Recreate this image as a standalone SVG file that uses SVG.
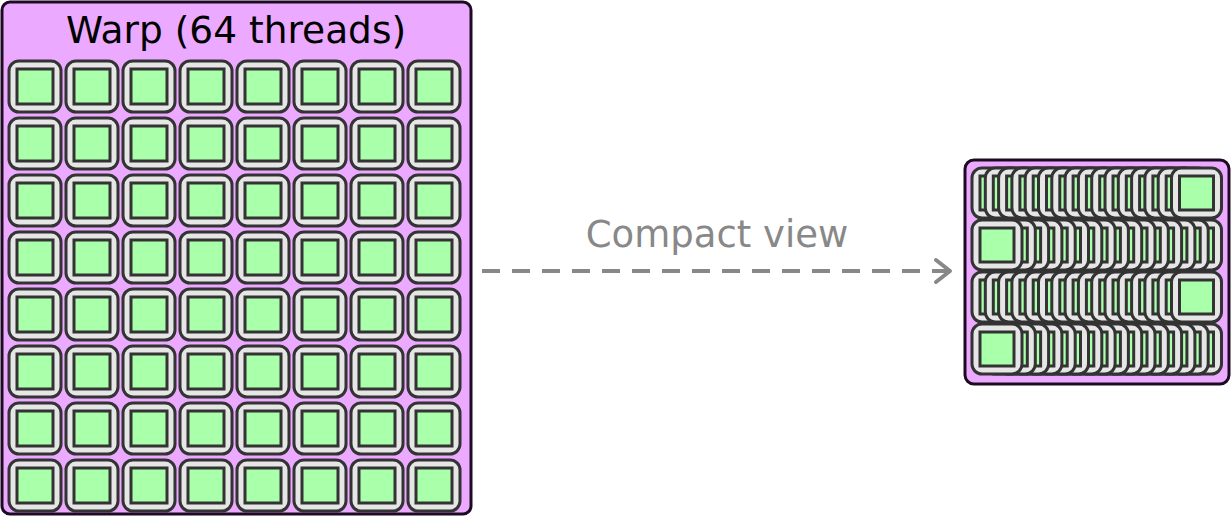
<svg xmlns="http://www.w3.org/2000/svg" xmlns:xlink="http://www.w3.org/1999/xlink" width="1231" height="516" viewBox="0 0 1231 516">
<style>
.warp{fill:#ebaaff;stroke:#1f0a24;stroke-width:3}
.o{fill:#e6e6e6;stroke:#333;stroke-width:3}
.i{fill:#aaffaa;stroke:#333;stroke-width:3}
text{font-family:"DejaVu Sans",sans-serif}
</style>
<defs>
<g id="c"><rect class="o" x="0" y="0" width="52" height="51" rx="10"/><rect class="i" x="8" y="8" width="36" height="35"/></g>
<g id="s"><rect class="o" x="0" y="0" width="50" height="50" rx="10"/><rect class="i" x="8" y="8" width="34" height="34"/></g>
<marker id="ah" viewBox="0 0 24 28" refX="20" refY="14" markerWidth="24" markerHeight="28" markerUnits="userSpaceOnUse" orient="auto"><path d="M6,3 L20,14 L6,25" fill="none" stroke="#888" stroke-width="4" stroke-linecap="round" stroke-linejoin="round"/></marker>
</defs>
<g id="warp">
<rect class="warp" x="2" y="2" width="469" height="512" rx="8"/>
<text x="236" y="43" font-size="37.5" text-anchor="middle" fill="#000">Warp (64 threads)</text>
<g id="grid">
<g id="r0"><use href="#c" x="9" y="61"/><use href="#c" x="66" y="61"/><use href="#c" x="123" y="61"/><use href="#c" x="180" y="61"/><use href="#c" x="237" y="61"/><use href="#c" x="294" y="61"/><use href="#c" x="351" y="61"/><use href="#c" x="408" y="61"/></g>
<use href="#r0" y="57"/><use href="#r0" y="114"/><use href="#r0" y="171"/><use href="#r0" y="228"/><use href="#r0" y="285"/><use href="#r0" y="342"/><use href="#r0" y="399"/>
</g>
</g>
<g id="connectors">
<line x1="482" y1="271" x2="950" y2="271" stroke="#888" stroke-width="4" stroke-dasharray="18,12" marker-end="url(#ah)"/>
<text x="717" y="247" font-size="37" text-anchor="middle" fill="#888">Compact view</text>
</g>
<g id="compact">
<rect class="warp" x="965" y="160" width="264" height="224" rx="9"/>
<g id="ra">
<use href="#s" x="972" y="168"/><use href="#s" x="985.3" y="168"/><use href="#s" x="998.6" y="168"/><use href="#s" x="1011.9" y="168"/><use href="#s" x="1025.2" y="168"/><use href="#s" x="1038.5" y="168"/><use href="#s" x="1051.8" y="168"/><use href="#s" x="1065.1" y="168"/><use href="#s" x="1078.4" y="168"/><use href="#s" x="1091.7" y="168"/><use href="#s" x="1105" y="168"/><use href="#s" x="1118.3" y="168"/><use href="#s" x="1131.6" y="168"/><use href="#s" x="1144.9" y="168"/><use href="#s" x="1158.2" y="168"/><use href="#s" x="1171.5" y="168"/>
</g>
<g id="rb">
<use href="#s" x="1171.5" y="220"/><use href="#s" x="1158.2" y="220"/><use href="#s" x="1144.9" y="220"/><use href="#s" x="1131.6" y="220"/><use href="#s" x="1118.3" y="220"/><use href="#s" x="1105" y="220"/><use href="#s" x="1091.7" y="220"/><use href="#s" x="1078.4" y="220"/><use href="#s" x="1065.1" y="220"/><use href="#s" x="1051.8" y="220"/><use href="#s" x="1038.5" y="220"/><use href="#s" x="1025.2" y="220"/><use href="#s" x="1011.9" y="220"/><use href="#s" x="998.6" y="220"/><use href="#s" x="985.3" y="220"/><use href="#s" x="972" y="220"/>
</g>
<use href="#ra" y="104"/>
<use href="#rb" y="104"/>
</g>
</svg>
